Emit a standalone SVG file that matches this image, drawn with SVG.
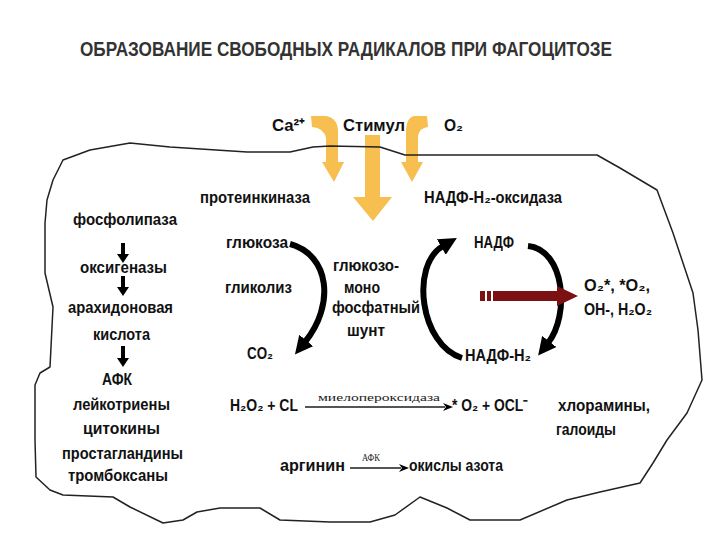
<svg xmlns="http://www.w3.org/2000/svg" width="720" height="540" viewBox="0 0 720 540">
<style>
text{font-family:"Liberation Sans",Arial,sans-serif;font-weight:bold;font-size:17px;fill:#111}
.t{font-size:20px;fill:#333}
.lbl{font-family:"Liberation Serif","Times New Roman",serif;font-weight:normal;font-size:11px;fill:#222}
.yel{fill:#F6BF50}
.arc{fill:none;stroke:#000;stroke-width:6;stroke-linecap:butt}
.rx{stroke:#555;stroke-width:2;fill:none}
</style>
<defs>
<marker id="bh" viewBox="0 0 18 18" refX="2" refY="9" markerWidth="18" markerHeight="18" markerUnits="userSpaceOnUse" orient="auto"><path d="M0,0 L18,9 L0,18 Z" fill="#000"/></marker>
<marker id="sh" viewBox="0 0 10 10" refX="2" refY="5" markerWidth="10" markerHeight="10" markerUnits="userSpaceOnUse" orient="auto"><path d="M0,1 L10,5 L0,9 L3,5 Z" fill="#000"/></marker>
</defs>
<rect width="720" height="540" fill="#fff"/>
<text class="t" x="80" y="56" textLength="532" lengthAdjust="spacingAndGlyphs">ОБРАЗОВАНИЕ СВОБОДНЫХ РАДИКАЛОВ ПРИ ФАГОЦИТОЗЕ</text>

<g id="stimuli">
<path class="yel" d="M311 116 L326 116 Q338 118 338 132 L338 162 L344 162 L334 182 L322 162 L326 162 L326 138 Q324 128 312 127 Z"/>
<path class="yel" d="M365 135 L380 135 L380 197 L392 197 L373 221 L353 197 L365 197 Z"/>
<path class="yel" d="M427 116 L414 116 Q406 118 406 132 L406 162 L401 162 L412 182 L423 162 L418 162 L418 136 Q419 128 428 127 Z"/>
</g>

<g id="cell">
<path d="M63 160 L90 150 L130 143 L170 147 L247 152 L290 152 L313 147 L330 146 L380 147 L405 155 L440 155 L597 155 L620 168 L657 190 L673 233 L693 293 L698 330 L702 380 L687 413 L667 440 L653 463 L640 483 L600 492 L567 500 L520 520 L470 520 L447 508 L420 497 L395 515 L370 522 L330 522 L280 520 L260 508 L220 508 L197 512 L183 520 L163 523 L130 507 L113 497 L63 495 L50 490 L36 477 L35 440 L35 385 L40 373 L50 367 L53 307 L45 273 L45 223 L47 200 L53 180 Z" fill="none" stroke="#222" stroke-width="1.5" stroke-linejoin="round"/>
</g>

<g id="labels-top">
<text x="272" y="131" textLength="33" lengthAdjust="spacingAndGlyphs">Ca²⁺</text>
<text x="343" y="131" textLength="62" lengthAdjust="spacingAndGlyphs">Стимул</text>
<text x="444" y="131" textLength="19" lengthAdjust="spacingAndGlyphs">O₂</text>
<text x="200" y="203" textLength="110" lengthAdjust="spacingAndGlyphs">протеинкиназа</text>
<text x="424" y="203" textLength="138" lengthAdjust="spacingAndGlyphs">НАДФ-Н₂-оксидаза</text>
</g>

<g id="lipid-chain">
<text x="73" y="225" textLength="104" lengthAdjust="spacingAndGlyphs">фосфолипаза</text>
<text x="80" y="273" textLength="87" lengthAdjust="spacingAndGlyphs">оксигеназы</text>
<text x="68" y="313" textLength="105" lengthAdjust="spacingAndGlyphs">арахидоновая</text>
<text x="93" y="340" textLength="57" lengthAdjust="spacingAndGlyphs">кислота</text>
<text x="102" y="385" textLength="30" lengthAdjust="spacingAndGlyphs">АФК</text>
<text x="73" y="410" textLength="97" lengthAdjust="spacingAndGlyphs">лейкотриены</text>
<text x="83" y="434" textLength="77" lengthAdjust="spacingAndGlyphs">цитокины</text>
<text x="62" y="459" textLength="121" lengthAdjust="spacingAndGlyphs">простагландины</text>
<text x="68" y="481" textLength="100" lengthAdjust="spacingAndGlyphs">тромбоксаны</text>
</g>

<g id="glycolysis">
<text x="226" y="248" textLength="62" lengthAdjust="spacingAndGlyphs">глюкоза</text>
<text x="225" y="293" textLength="67" lengthAdjust="spacingAndGlyphs">гликолиз</text>
<text x="247" y="359" textLength="26" lengthAdjust="spacingAndGlyphs">CO₂</text>
</g>

<g id="shunt">
<text x="333" y="271" textLength="66" lengthAdjust="spacingAndGlyphs">глюкозо-</text>
<text x="344" y="293" textLength="36" lengthAdjust="spacingAndGlyphs">моно</text>
<text x="332" y="313" textLength="88" lengthAdjust="spacingAndGlyphs">фосфатный</text>
<text x="347" y="336" textLength="38" lengthAdjust="spacingAndGlyphs">шунт</text>
</g>

<g id="nadph-cycle">
<text x="474" y="248" textLength="40" lengthAdjust="spacingAndGlyphs">НАДФ</text>
<text x="465" y="361" textLength="66" lengthAdjust="spacingAndGlyphs">НАДФ-Н₂</text>
</g>

<g id="radicals">
<text x="584" y="291" textLength="66" lengthAdjust="spacingAndGlyphs">O₂*, *O₂,</text>
<text x="584" y="315" textLength="68" lengthAdjust="spacingAndGlyphs">OH-, H₂O₂</text>
</g>

<g id="myeloperoxidase">
<text x="230" y="411" textLength="68" lengthAdjust="spacingAndGlyphs">H₂O₂ + CL</text>
<text class="lbl" x="318" y="401" textLength="122" lengthAdjust="spacingAndGlyphs">миелопероксидаза</text>
<text x="452" y="411" textLength="76" lengthAdjust="spacingAndGlyphs">* O₂ + OCL⁻</text>
<text x="558" y="411" textLength="92" lengthAdjust="spacingAndGlyphs">хлорамины,</text>
<text x="556" y="435" textLength="60" lengthAdjust="spacingAndGlyphs">галоиды</text>
</g>

<g id="arginine">
<text x="280" y="471" textLength="65" lengthAdjust="spacingAndGlyphs">аргинин</text>
<text class="lbl" x="362" y="461" font-size="9" textLength="18" lengthAdjust="spacingAndGlyphs">АФК</text>
<text x="409" y="471" textLength="94" lengthAdjust="spacingAndGlyphs">окислы азота</text>
</g>

<g id="connectors">
<rect x="121" y="243" width="4" height="12" fill="#000"/><path d="M117 254 L129 254 L123 263 Z" fill="#000"/>
<rect x="121" y="276" width="4" height="12" fill="#000"/><path d="M117 287 L129 287 L123 296 Z" fill="#000"/>
<rect x="121" y="346" width="4" height="13" fill="#000"/><path d="M117 358 L129 358 L123 367 Z" fill="#000"/>
<path class="arc" d="M290 244 C330 255 335 305 305 342" marker-end="url(#bh)"/>
<path class="arc" d="M462 358 C420 345 410 265 443 246" marker-end="url(#bh)"/>
<path class="arc" d="M528 246 C565 250 570 315 548 343" marker-end="url(#bh)"/>
<rect x="480" y="291" width="80" height="10" fill="#7B1113"/>
<path d="M557 286 L578 296 L557 306 Z" fill="#7B1113"/>
<rect x="485" y="291" width="2" height="10" fill="#fff"/>
<rect x="491" y="291" width="2" height="10" fill="#fff"/>
<path class="rx" d="M305 407 L445 407" marker-end="url(#sh)"/>
<path class="rx" d="M350 468 L401 468" marker-end="url(#sh)"/>
</g>
</svg>
